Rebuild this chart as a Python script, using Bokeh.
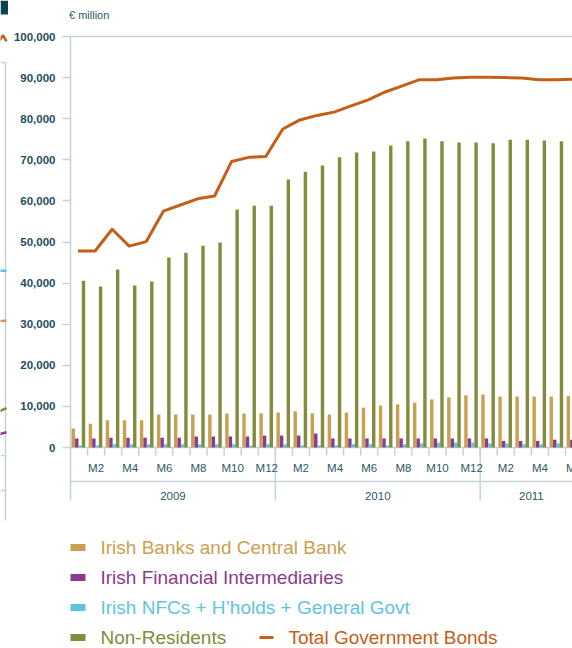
from bokeh.plotting import figure
from bokeh.layouts import row
from bokeh.models import FixedTicker, NumeralTickFormatter, Range1d, ColumnDataSource
from bokeh.core.properties import value
from bokeh.embed import file_html
from bokeh.resources import INLINE

# ---------------- data (EUR million) ----------------
years = ["2009", "2010", "2011"]
months_per_year = [12, 12, 6]
month_labels = ["M%d" % m for m in range(1, 13)] * 2 + ["M%d" % m for m in range(1, 7)]

irish_banks = [4600, 5800, 6600, 6600, 6600, 8000, 8000, 8000, 8000, 8300, 8300, 8300,
               8500, 8800, 8300, 8000, 8500, 9700, 10200, 10500, 10900, 11700, 12200, 12700,
               12900, 12400, 12400, 12400, 12400, 12500]
irish_fin_int = [2200, 2200, 2400, 2400, 2400, 2400, 2400, 2700, 2700, 2700, 2700, 2900,
                 2900, 2900, 3400, 2200, 2200, 2200, 2200, 2200, 2200, 2200, 2200, 2200,
                 2200, 1600, 1600, 1600, 1900, 1900]
irish_nfc = [500, 500, 800, 800, 800, 800, 800, 800, 800, 800, 500, 800,
             800, 500, 500, 500, 800, 800, 500, 800, 1000, 1200, 1200, 1200,
             1000, 1000, 800, 800, 1000, 1000]
non_residents = [40600, 39200, 43300, 39400, 40400, 46200, 47400, 49100, 49900, 57900, 58800, 58800,
                 65200, 67100, 68600, 70600, 71800, 72000, 73500, 74500, 75200, 74500, 74200, 74200,
                 74000, 74900, 74900, 74700, 74500, 74500]
total_bonds = [47800, 47800, 53100, 49000, 50100, 57500, 59000, 60500, 61200, 69600, 70600, 70800,
               77500, 79700, 80800, 81600, 83100, 84600, 86500, 88000, 89500, 89500, 89900, 90100,
               90100, 90000, 89900, 89500, 89500, 89600]
y_ticks = [0, 10000, 20000, 30000, 40000, 50000, 60000, 70000, 80000, 90000, 100000]

series_names = ["Irish Banks and Central Bank", "Irish Financial Intermediaries",
                "Irish NFCs + H\u2019holds + General Govt", "Non-Residents"]
line_name = "Total Government Bonds"

# edge of the neighbouring (cropped) chart: last visible values of its series
prev_x = [-1.0, 2.5, 6.0]
prev_total = [99000, 100300, 98800]
prev_nfc = [43000, 43000, 43000]
prev_banks = [30800, 30800, 30900]
prev_nonres = [8800, 9200, 9600]
prev_fin = [3200, 3500, 3700]

# ---------------- styles ----------------
TAN = "#C9A050"
PURPLE = "#8E3A8C"
CYAN = "#5FC4DF"
OLIVE = "#838B3D"
ORANGE = "#C55E17"
AXIS = "#C5D3D8"
DARK = "#1E4D5C"
LABEL = "#2B5866"
FONT = value("Liberation Sans")

SLOT = 17.07          # px per month
K = 411 / 100000.0    # px per EUR million
H = 648


def dx(px):
    return (px - 70) / SLOT


def dy(py):
    return (447 - py) / K


# ---------------- neighbouring chart fragment ----------------
frag = figure(width=8, height=H, output_backend="svg", toolbar_location=None,
              x_range=Range1d(0, 8), y_range=Range1d(dy(H), dy(0)),
              x_axis_location=None, y_axis_location=None, min_border=0)
frag.outline_line_color = None
frag.grid.visible = False
frag.quad(left=[0], right=[8], top=[dy(0)], bottom=[dy(14)], fill_color="#12414F", line_color=None)
frag.segment(x0=[5, 0, 0, 0], y0=[dy(62), dy(62), dy(455), dy(490)],
             x1=[5, 5, 5, 5], y1=[dy(520), dy(62), dy(455), dy(490)],
             line_color=AXIS, line_width=1.5)
for ys, c in [(prev_total, ORANGE), (prev_nfc, CYAN), (prev_banks, TAN),
              (prev_nonres, OLIVE), (prev_fin, PURPLE)]:
    frag.line(x=prev_x, y=ys, line_color=c, line_width=2.5)

# ---------------- main chart ----------------
n = len(month_labels)
idx = list(range(n))

p = figure(width=564, height=H, output_backend="svg", toolbar_location=None,
           x_range=Range1d(dx(68), dx(572)), y_range=Range1d(dy(H), dy(0)),
           x_axis_location=None, min_border=0, min_border_left=60)
p.outline_line_color = None
p.grid.visible = False
p.background_fill_color = "white"
p.border_fill_color = "white"

ax = p.yaxis[0]
ax.ticker = FixedTicker(ticks=y_ticks)
ax.formatter = NumeralTickFormatter(format="0,0")
ax.axis_line_color = None
ax.major_tick_line_color = AXIS
ax.major_tick_line_width = 1.5
ax.major_tick_out = 6
ax.major_tick_in = 2
ax.minor_tick_line_color = None
ax.major_label_standoff = 7
ax.major_label_text_font = "Liberation Sans"
ax.major_label_text_font_style = "bold"
ax.major_label_text_font_size = "11.5px"
ax.major_label_text_color = DARK

# frame lines
x_end = float(n)
bottom_y = dy(500)
p.segment(x0=[0, 0, 0, 0], y0=[y_ticks[-1], y_ticks[-1], 0, dy(481)],
          x1=[0, x_end, x_end, x_end], y1=[bottom_y, y_ticks[-1], 0, dy(481)],
          line_color=AXIS, line_width=1.5)
p.segment(x0=idx[1:], y0=[0] * (n - 1), x1=idx[1:], y1=[dy(455)] * (n - 1),
          line_color=AXIS, line_width=1.5)
starts = []
acc = 0
for m in months_per_year:
    starts.append(acc)
    acc += m
p.segment(x0=starts[1:], y0=[0] * (len(starts) - 1), x1=starts[1:],
          y1=[bottom_y] * (len(starts) - 1), line_color=AXIS, line_width=1.5)

# bars
src = ColumnDataSource(dict(i=idx, banks=irish_banks, fin=irish_fin_int, nfc=irish_nfc,
                            nonres=non_residents, total=total_bonds))
offsets = [0.164, 0.369, 0.568, 0.762]
cols = ["banks", "fin", "nfc", "nonres"]
colors = [TAN, PURPLE, CYAN, OLIVE]
for off, col, c in zip(offsets, cols, colors):
    p.vbar(x=[i + off for i in idx], top=src.data[col], bottom=0, width=0.2,
           fill_color=c, line_color=None)

p.line(x=[i + 0.44 for i in idx], y=total_bonds, line_color=ORANGE, line_width=3,
       line_join="round")

# month / year labels
mx = [i + 0.5 for i, lab in enumerate(month_labels) if int(lab[1:]) % 2 == 0]
ml = [lab for lab in month_labels if int(lab[1:]) % 2 == 0]
p.text(x=mx, y=[dy(467)] * len(mx), text=ml, text_font=FONT, text_font_size="11.5px",
       text_color=LABEL, text_align="center", text_baseline="middle")
yx = [s + m / 2.0 for s, m in zip(starts, months_per_year)]
p.text(x=yx, y=[dy(495)] * len(yx), text=years, text_font=FONT, text_font_size="11.5px",
       text_color=LABEL, text_align="center", text_baseline="middle")

p.text(x=[dx(68.5)], y=[dy(14)], text=["\u20ac million"], text_font=FONT,
       text_font_size="11px", text_color=LABEL, text_align="left", text_baseline="middle")

# legend (manual, coloured labels)
rows = [547, 577, 607, 637]
for (name, c, ry) in zip(series_names, colors, rows):
    p.quad(left=[dx(70)], right=[dx(85)], top=[dy(ry - 3.5)], bottom=[dy(ry + 3.5)],
           fill_color=c, line_color=None)
    p.text(x=[dx(100)], y=[dy(ry)], text=[name], text_font=FONT, text_font_size="19px",
           text_color=c, text_align="left", text_baseline="middle")
p.segment(x0=[dx(259)], y0=[dy(rows[3])], x1=[dx(273)], y1=[dy(rows[3])],
          line_color=ORANGE, line_width=3)
p.text(x=[dx(288)], y=[dy(rows[3])], text=[line_name], text_font=FONT, text_font_size="19px",
       text_color=ORANGE, text_align="left", text_baseline="middle")

layout = row(frag, p, spacing=0)
open("out.html", "w").write(file_html(layout, INLINE))
